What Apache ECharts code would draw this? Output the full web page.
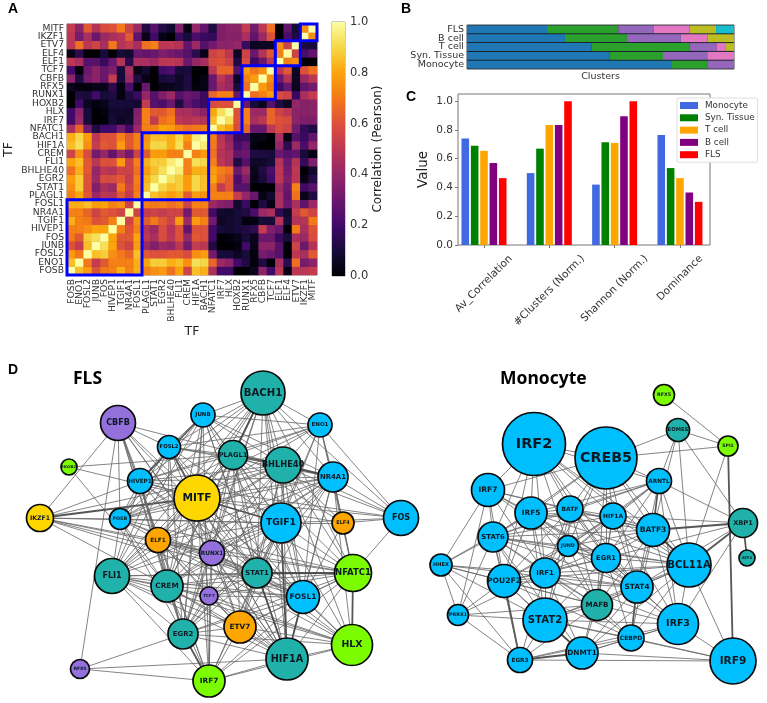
<!DOCTYPE html>
<html><head><meta charset="utf-8">
<style>html,body{margin:0;padding:0;background:#fff}#c{width:767px;height:703px}</style>
<script src="https://cdn.jsdelivr.net/npm/echarts@6/dist/echarts.min.js"></script>
</head><body><div id="c"></div>
<script>
const tfLabels=["FOSB","ENO1","FOSL2","JUNB","FOS","HIVEP1","TGIF1","NR4A1","FOSL1","PLAGL1","STAT1","EGR2","BHLHE40","FLI1","CREM","HIF1A","BACH1","NFATC1","IRF7","HLX","HOXB2","RUNX1","RFX5","CBFB","TCF7","ELF1","ELF4","ETV7","IKZF1","MITF"];
// lower triangle of the symmetric correlation matrix, row i has columns 0..i
const corrRows=[
[1],
[.85,1],
[.78,.7,1],
[.6,.52,.85,1],
[.7,.62,.88,.92,1],
[.72,.72,.75,.8,.8,1],
[.82,.72,.7,.6,.62,.72,1],
[.72,.72,.65,.55,.62,.6,.55,1],
[.82,.82,.85,.78,.8,.72,.75,.55,1],
[.72,.8,.62,.42,.5,.48,.62,.52,.72,1],
[.75,.88,.6,.35,.45,.42,.7,.55,.7,.85,1],
[.78,.88,.6,.42,.58,.58,.62,.52,.72,.82,.9,1],
[.68,.82,.62,.4,.5,.48,.55,.55,.68,.78,.85,.92,1],
[.8,.85,.62,.5,.6,.6,.78,.55,.72,.82,.88,.88,.95,1],
[.55,.75,.58,.32,.4,.28,.42,.32,.55,.62,.78,.78,.72,.72,1],
[.85,.92,.75,.52,.62,.6,.78,.62,.72,.78,.9,.9,.82,.92,.72,1],
[.82,.9,.78,.5,.6,.6,.72,.62,.72,.75,.85,.85,.82,.9,.78,.95,1],
[.45,.65,.32,.12,.2,.2,.32,.2,.42,.72,.72,.8,.78,.72,.68,.7,.72,1],
[.2,.42,.1,0,0,.1,.06,.08,.37,.72,.52,.68,.72,.5,.48,.5,.48,.85,1],
[.2,.38,.1,0,.02,.08,.08,.07,.35,.72,.62,.62,.68,.45,.45,.42,.38,.8,.92,1],
[0,.2,.05,.02,.04,.1,.1,.1,.08,.52,.25,.22,.3,.12,.28,.22,.18,.58,.6,.6,1],
[0,.12,.1,.2,.1,.12,.02,.12,.18,.4,.25,.35,.42,.25,.3,.27,.18,.65,.72,.72,.3,1],
[.05,.02,.02,.04,.04,.15,.02,.22,0,.3,0,.04,.05,.07,.12,.02,.03,.3,.45,.42,.1,.68,1],
[.38,.12,.33,.38,.3,.52,.1,.42,.12,.03,0,.1,.12,.07,.12,0,.03,.3,.5,.42,.05,.72,.78,1],
[.2,0,.3,.38,.3,.35,.1,.45,.03,.08,0,.2,.22,.1,.1,0,0,.5,.65,.65,.25,.78,.7,.75,1],
[.5,.45,.25,.25,.18,.3,.48,.15,.45,.45,.42,.5,.5,.48,.3,.4,.45,.58,.6,.55,.12,.58,.2,.3,.5,1],
[.03,.15,0,0,.1,0,.1,.08,.3,.28,.3,.35,.32,.3,.25,.15,.03,.55,.58,.5,.06,.55,.3,.48,.62,.72,1],
[.5,.68,.5,.55,.45,.7,.48,.52,.45,.68,.72,.5,.5,.48,.28,.42,.25,.32,.38,.38,.4,.18,.05,.06,.06,.75,.55,1],
[.5,.33,.45,.3,.42,.45,.48,.62,.27,.04,.2,.03,0,.17,.1,.22,.18,.17,.35,.37,.37,.45,.28,.42,.6,0,.22,.12,1],
[.52,.38,.62,.48,.58,.6,.7,.55,.42,.12,.25,.13,.08,.35,.03,.4,.28,.12,.35,.38,.38,.52,.32,.5,.68,0,.28,.1,.75,1]
];
const moduleBlocks=[[0,8],[9,16],[17,20],[21,24],[25,27],[28,29]];
const infernoStops=["#000004","#160b39","#420a68","#6a176e","#932667","#bc3754","#dd513a","#f37819","#fca50a","#f6d746","#fcffa4"];

const clusterRows=["Monocyte","Syn. Tissue","T cell","B cell","FLS"];
const cluster1=[.768,.534,.467,.367,.30];
const cluster2=[.132,.20,.367,.232,.267];
const cluster3=[.10,.166,.10,.202,.133];
const cluster4=[0,.10,.033,.099,.133];
const cluster5=[0,0,.033,.10,.10];
const cluster6=[0,0,0,0,.067];
const clusterColors=["#1f77b4","#2ca02c","#9467bd","#e377c2","#bcbd22","#17becf"];

const metricLabels=["Av_Correlation","#Clusters (Norm.)","Shannon (Norm.)","Dominance"];
const metricMonocyte=[.74,.50,.42,.765];
const metricSyn=[.69,.67,.715,.535];
const metricT=[.655,.835,.71,.465];
const metricB=[.57,.835,.895,.365];
const metricFLS=[.465,1,1,.30];

// Network node tables: name, layout x, layout y, node weight, community
const flsNodes=[
["CBFB",118,423,17.5,"p"],["HOXB2",69,467,8,"g"],["JUNB",203,415,12,"b"],["FOSL2",169,447,11.5,"b"],["HIVEP1",140,481,12.5,"b"],
["MITF",197,498,23,"y"],["IKZF1",40,518,13.5,"y"],["FOSB",120,519,10.5,"b"],["ELF1",158,540,12.5,"o"],["RUNX1",212,553,12.5,"p"],
["FLI1",112,576,17.5,"t"],["CREM",167,586,16,"t"],["TCF7",209,596,9,"p"],["EGR2",183,634,15,"t"],["RFX5",80,669,9.5,"p"],
["IRF7",209,681,16,"g"],["BACH1",263,393,22,"t"],["ENO1",320,425,12,"b"],["PLAGL1",233,455,14.5,"t"],["BHLHE40",283,465,18,"t"],
["NR4A1",333,477,15,"b"],["TGIF1",281,523,20,"b"],["ELF4",343,523,11,"o"],["FOS",401,518,17.5,"b"],["STAT1",257,573,15,"t"],
["NFATC1",353,573,18.5,"g"],["FOSL1",303,597,16.5,"b"],["ETV7",240,627,16,"o"],["HLX",352,645,20.5,"g"],["HIF1A",287,659,21,"t"]
];
const flsEdges={
CBFB:"IKZF1 RFX5 FOSL2 HIVEP1 MITF ELF1 STAT1 RUNX1 FOSB HIF1A CREM BHLHE40 EGR2 IRF7",
HOXB2:"PLAGL1 MITF CREM",
IKZF1:"MITF TGIF1 BHLHE40 FOSB HIVEP1 ELF1 RUNX1 CREM STAT1 FOSL1",
RFX5:"EGR2 HIF1A IRF7",
FOSB:"MITF HIVEP1 ELF1 FLI1 TGIF1 BACH1 BHLHE40 PLAGL1 STAT1 CREM FOSL2 JUNB NR4A1 EGR2 NFATC1 FOSL1 ENO1",
HIVEP1:"FOSL2 JUNB MITF PLAGL1 BACH1 BHLHE40 TGIF1 ELF1 FLI1 CREM EGR2 STAT1 FOSL1 HIF1A NR4A1 ENO1 FOS",
FOSL2:"JUNB MITF PLAGL1 BACH1 BHLHE40 TGIF1 NR4A1 ENO1 FLI1 CREM STAT1 FOSL1 EGR2 HIF1A RUNX1",
JUNB:"BACH1 PLAGL1 BHLHE40 MITF TGIF1 ENO1 NR4A1 FLI1 CREM STAT1 EGR2 FOSL1 IRF7 HIF1A",
MITF:"BACH1 PLAGL1 BHLHE40 TGIF1 NR4A1 ENO1 RUNX1 ELF1 FLI1 CREM STAT1 EGR2 FOSL1 NFATC1 ELF4 HLX IRF7 ETV7 HIF1A TCF7 FOS",
ELF1:"RUNX1 FLI1 CREM EGR2 STAT1 TGIF1 NFATC1 HLX HIF1A ETV7 IRF7 TCF7 BHLHE40 PLAGL1 NR4A1 FOSL1 BACH1",
RUNX1:"CREM TCF7 STAT1 TGIF1 ETV7 EGR2 FOSL1 NFATC1 HLX HIF1A IRF7 BHLHE40 PLAGL1 NR4A1 BACH1",
FLI1:"CREM EGR2 IRF7 TCF7 STAT1 TGIF1 PLAGL1 BHLHE40 FOSL1 NFATC1 HIF1A ETV7 NR4A1 BACH1 HLX",
CREM:"EGR2 IRF7 TCF7 STAT1 TGIF1 ETV7 FOSL1 NFATC1 HIF1A HLX BHLHE40 PLAGL1 NR4A1 BACH1",
TCF7:"EGR2 IRF7 STAT1 ETV7 HIF1A FOSL1 NFATC1 TGIF1 HLX",
EGR2:"IRF7 STAT1 ETV7 HIF1A FOSL1 NFATC1 HLX TGIF1 PLAGL1 BHLHE40 BACH1 NR4A1",
IRF7:"ETV7 HIF1A STAT1 HLX NFATC1 FOSL1 TGIF1",
BACH1:"PLAGL1 BHLHE40 ENO1 NR4A1 TGIF1 STAT1 FOS FOSL1 HIF1A NFATC1",
ENO1:"PLAGL1 BHLHE40 NR4A1 TGIF1 STAT1 FOSL1 FOS NFATC1 ELF4",
PLAGL1:"BHLHE40 NR4A1 TGIF1 STAT1 FOSL1 HIF1A ETV7 NFATC1 FOS ELF4",
BHLHE40:"NR4A1 TGIF1 STAT1 FOSL1 HIF1A ETV7 NFATC1 FOS ELF4 HLX",
NR4A1:"TGIF1 ELF4 FOS STAT1 FOSL1 NFATC1 HIF1A HLX ETV7",
TGIF1:"ELF4 FOS STAT1 FOSL1 NFATC1 HIF1A ETV7 HLX",
ELF4:"FOS NFATC1 FOSL1",
FOS:"NFATC1",
STAT1:"NFATC1 FOSL1 ETV7 HIF1A HLX",
NFATC1:"FOSL1 HLX HIF1A ETV7",
FOSL1:"HLX HIF1A ETV7",
ETV7:"HLX HIF1A",
HLX:"HIF1A"
};
const flsHeavy=["MITF-TGIF1","NFATC1-HLX","BHLHE40-NR4A1","STAT1-NFATC1","PLAGL1-BHLHE40","BACH1-PLAGL1","MITF-FOSL2","IKZF1-MITF","FOSL1-HIF1A","TGIF1-HIF1A","STAT1-HIF1A","EGR2-IRF7","HIVEP1-JUNB"];

const monoNodes=[
["RFX5",664,395,10.5,"g"],["EOMES",678,430,11.5,"t"],["SPI1",728,446,10,"g"],["IRF2",534,444,31.5,"b"],["CREB5",606,458,31,"b"],
["ARNTL",659,481,12.5,"b"],["IRF7",488,490,16.5,"b"],["IRF5",531,513,16,"b"],["BATF",570,509,13,"b"],["HIF1A",613,516,13,"b"],
["BATF3",653,530,16.5,"b"],["XBP1",743,523,14.5,"t"],["STAT6",493,537,15,"b"],["JUND",568,546,10.5,"b"],["ATF4",747,558,8,"t"],
["HHEX",441,565,11,"b"],["EGR1",606,558,14.5,"b"],["BCL11A",689,565,22,"b"],["POU2F2",504,581,16.5,"b"],["IRF1",545,573,15,"b"],
["STAT4",637,587,16,"b"],["MAFB",597,605,15.5,"t"],["PRRX1",458,615,10.5,"b"],["STAT2",545,620,22,"b"],["IRF3",678,624,20.5,"b"],
["CEBPD",631,638,13,"b"],["DNMT1",582,653,16,"b"],["EGR3",520,660,12.5,"b"],["IRF9",733,661,23,"b"]
];
const monoEdges={
RFX5:"SPI1",
EOMES:"CREB5 SPI1 ARNTL BATF3 BCL11A XBP1",
SPI1:"CREB5 BCL11A IRF9",
XBP1:"ATF4 BATF3 HIF1A ARNTL BCL11A STAT4 EGR1 IRF3",
IRF9:"BCL11A IRF3 CEBPD DNMT1 EGR3 STAT2",
HHEX:"IRF7 STAT6 IRF5 POU2F2 IRF1 PRRX1 EGR3 STAT4 MAFB STAT2",
PRRX1:"STAT6 IRF7 POU2F2 IRF1 STAT2 EGR3 MAFB",
EGR3:"POU2F2 STAT2 DNMT1 MAFB CEBPD IRF1 STAT6 IRF3",
IRF2:"CREB5 IRF7 STAT6 IRF5 BATF JUND IRF1 HIF1A ARNTL BATF3 EGR1 STAT4 BCL11A POU2F2",
CREB5:"ARNTL IRF7 IRF5 BATF HIF1A BATF3 JUND EGR1 STAT4 BCL11A IRF1 STAT6 MAFB",
ARNTL:"BATF BATF3 HIF1A BCL11A IRF5 STAT6 JUND EGR1 STAT4 IRF1 IRF3",
IRF7:"IRF5 BATF STAT6 JUND POU2F2 IRF1 EGR1 BATF3",
IRF5:"BATF STAT6 HIF1A JUND EGR1 IRF1 POU2F2 BATF3 BCL11A STAT4 MAFB STAT2",
BATF:"HIF1A BATF3 STAT6 JUND EGR1 IRF1 POU2F2 BCL11A STAT4 MAFB STAT2",
HIF1A:"BATF3 STAT6 JUND EGR1 BCL11A STAT4 IRF1 POU2F2 MAFB IRF3",
BATF3:"STAT6 JUND EGR1 BCL11A STAT4 IRF1 MAFB IRF3 CEBPD",
STAT6:"JUND POU2F2 IRF1 EGR1 STAT2 STAT4 MAFB DNMT1 BCL11A",
JUND:"EGR1 IRF1 POU2F2 STAT4 MAFB BCL11A STAT2 IRF3",
EGR1:"BCL11A IRF1 POU2F2 STAT4 MAFB STAT2 IRF3 CEBPD DNMT1",
BCL11A:"STAT4 IRF3 MAFB IRF1 CEBPD STAT2 DNMT1 POU2F2",
POU2F2:"IRF1 STAT2 MAFB STAT4 DNMT1 CEBPD",
IRF1:"STAT2 STAT4 MAFB DNMT1 CEBPD IRF3",
STAT4:"MAFB IRF3 CEBPD STAT2 DNMT1",
MAFB:"STAT2 CEBPD DNMT1 IRF3",
STAT2:"DNMT1 CEBPD IRF3",
IRF3:"CEBPD DNMT1",
CEBPD:"DNMT1"
};
const monoHeavy=["EGR3-POU2F2","EGR3-DNMT1","XBP1-BATF3","XBP1-BCL11A","BATF3-BCL11A","STAT4-CEBPD","STAT2-DNMT1","ARNTL-BATF3","SPI1-IRF9","XBP1-ATF4"];

const communityColors={b:"#00BFFF",t:"#20B2AA",p:"#9370DB",y:"#FFD700",o:"#FFA500",g:"#7CFC00"};
const DJ='"DejaVu Sans"';

function tri(i,j){return i>=j?corrRows[i][j]:corrRows[j][i];}
const heatData=[];
tfLabels.forEach((_,x)=>tfLabels.forEach((_,y)=>heatData.push([x,y,tri(x,y)])));

function graphData(nodes){
  return nodes.map(n=>({name:n[0],value:[n[1],n[2]],symbolSize:n[3]*2,
    itemStyle:{color:communityColors[n[4]],borderColor:"#0a0a0a",borderWidth:1.7},
    label:{show:true,position:"inside",formatter:n[0],fontFamily:DJ,fontWeight:"bold",fontSize:n[3]*.46,color:"#0b1a22"}}));
}
function graphLinks(edges,heavy){
  const out=[];
  for(const s in edges) edges[s].split(" ").forEach(t=>{
    const hv=heavy.includes(s+"-"+t)||heavy.includes(t+"-"+s);
    out.push({source:s,target:t,lineStyle:{width:hv?1.8:1,color:hv?"#444":"#666",opacity:hv?.9:.8}});
  });
  return out;
}
function graphSeries(nodes,edges,heavy,g){
  return {type:"graph",coordinateSystem:"cartesian2d",xAxisIndex:g,yAxisIndex:g,layout:"none",silent:true,
    data:graphData(nodes),links:graphLinks(edges,heavy),z:3,animation:false};
}

const measure=document.createElement("canvas").getContext("2d");
measure.font="10.5px "+DJ;

const chart=echarts.init(document.getElementById("c"),null,{renderer:"canvas"});
const barSeries=[["Monocyte",metricMonocyte,"#4169e1"],["Syn. Tissue",metricSyn,"#008000"],["T cell",metricT,"#ffa500"],["B cell",metricB,"#800080"],["FLS",metricFLS,"#ff0000"]]
 .map(([name,vals,color])=>({name,type:"bar",xAxisIndex:3,yAxisIndex:3,barWidth:7.6,barGap:"23%",
   itemStyle:{color},data:vals.map((v,i)=>[i,v])}));
const stackSeries=[cluster1,cluster2,cluster3,cluster4,cluster5,cluster6].map((vals,i)=>({
  name:"Cluster "+(i+1),type:"bar",stack:"c",xAxisIndex:2,yAxisIndex:2,barCategoryGap:"11%",
  itemStyle:{color:clusterColors[i]},data:vals}));
const tfAxisText={fontFamily:DJ,fontSize:9.2,color:"#333",interval:0};
const letter=(text,left,top)=>({text,left,top,padding:0,textStyle:{fontFamily:'"Liberation Sans"',fontWeight:"bold",fontSize:14,color:"#000"}});

chart.setOption({
  animation:false,
  backgroundColor:"#fff",
  title:[letter("A",8,2),letter("B",401,2),letter("C",406,90),letter("D",8,363),
    {text:"FLS",left:73,top:370,padding:0,textStyle:{fontFamily:'"Noto Sans"',fontWeight:"bold",fontSize:17.5,color:"#000"}},
    {text:"Monocyte",left:500,top:370,padding:0,textStyle:{fontFamily:'"Noto Sans"',fontWeight:"bold",fontSize:17.5,color:"#000"}}],
  grid:[
    {left:67,top:24,width:250,height:251,show:true,borderColor:"#888",borderWidth:1,backgroundColor:"#000"},
    {left:332,top:22,width:13,height:254,show:true,borderColor:"#999",borderWidth:1},
    {left:467,top:25,width:267,height:44,show:true,borderColor:"#444",borderWidth:1,backgroundColor:"#1a2530"},
    {left:458,top:94,width:252,height:151,show:true,borderColor:"#777",borderWidth:1},
    {left:0,top:370,width:425,height:333},
    {left:425,top:370,width:342,height:333}
  ],
  xAxis:[
    {gridIndex:0,type:"category",data:tfLabels,name:"TF",nameLocation:"middle",nameGap:46,
      nameTextStyle:{fontFamily:DJ,fontSize:12.5,color:"#222"},
      axisLabel:Object.assign({rotate:90,margin:4},tfAxisText),axisTick:{length:2,alignWithLabel:true,lineStyle:{color:"#777"}},axisLine:{show:false},splitLine:{show:false},splitArea:{show:false}},
    {gridIndex:1,type:"category",data:[""],show:false},
    {gridIndex:2,type:"value",min:0,max:1,name:"Clusters",nameLocation:"middle",nameGap:3,nameTextStyle:{fontFamily:DJ,fontSize:9.5,color:"#333"},
      axisLabel:{show:false},axisTick:{show:false},axisLine:{show:false},splitLine:{show:false}},
    {gridIndex:3,type:"value",min:-0.398,max:3.46,
      axisLabel:{show:false},axisTick:{show:true,length:3,lineStyle:{color:"#777"},customValues:[0,1,2,3]},axisLine:{show:false,onZero:false},splitLine:{show:false}},
    {gridIndex:4,type:"value",min:0,max:425,show:false},
    {gridIndex:5,type:"value",min:425,max:767,show:false}
  ],
  yAxis:[
    {gridIndex:0,type:"category",data:tfLabels,name:"TF",nameLocation:"middle",nameGap:52,
      nameTextStyle:{fontFamily:DJ,fontSize:12.5,color:"#222"},
      axisLabel:Object.assign({margin:3},tfAxisText),axisTick:{length:2,alignWithLabel:true,lineStyle:{color:"#777"}},axisLine:{show:false},splitLine:{show:false},splitArea:{show:false}},
    {gridIndex:1,type:"value",min:0,max:1,interval:.2,position:"right",name:"Correlation (Pearson)",nameLocation:"middle",nameGap:27,nameRotate:90,
      nameTextStyle:{fontFamily:DJ,fontSize:12,color:"#222"},
      axisLabel:{fontFamily:DJ,fontSize:11.5,color:"#333",margin:5,formatter:v=>v.toFixed(1)},axisTick:{length:3,lineStyle:{color:"#666"}},axisLine:{show:false},splitLine:{show:false}},
    {gridIndex:2,type:"category",data:clusterRows,axisLabel:{fontFamily:DJ,fontSize:9.5,color:"#333",interval:0,margin:3},axisTick:{show:false},axisLine:{show:false,onZero:false}},
    {gridIndex:3,type:"value",min:0,max:1.05,name:"Value",nameLocation:"middle",nameGap:28,nameRotate:90,
      nameTextStyle:{fontFamily:DJ,fontSize:13.5,color:"#222"},
      axisLabel:{fontFamily:DJ,fontSize:10.5,color:"#333",margin:5,customValues:[0,.2,.4,.6,.8,1],formatter:v=>v.toFixed(1)},
      axisTick:{length:3,lineStyle:{color:"#777"},customValues:[0,.2,.4,.6,.8,1]},axisLine:{show:false,onZero:false},splitLine:{show:false}},
    {gridIndex:4,type:"value",min:370,max:703,inverse:true,show:false},
    {gridIndex:5,type:"value",min:370,max:703,inverse:true,show:false}
  ],
  visualMap:{show:false,type:"continuous",min:0,max:1,seriesIndex:0,inRange:{color:infernoStops}},
  legend:{data:["Monocyte","Syn. Tissue","T cell","B cell","FLS"],orient:"vertical",left:677,top:98,itemWidth:18,itemHeight:7,itemGap:3.3,
    icon:"rect",padding:[3,3,3,3],backgroundColor:"#fff",borderColor:"#ddd",borderWidth:1,borderRadius:2,selectedMode:false,z:20,
    textStyle:{fontFamily:DJ,fontSize:8.8,color:"#333",padding:[0,0,0,2]}},
  series:[
    {type:"heatmap",xAxisIndex:0,yAxisIndex:0,data:heatData,silent:true,itemStyle:{borderWidth:0}},
    {type:"custom",xAxisIndex:0,yAxisIndex:0,silent:true,z:5,clip:false,data:moduleBlocks,encode:{x:0,y:0},
      renderItem(params,api){
        const a=api.value(0),b=api.value(1);
        const s=api.size([1,1]);
        const p=api.coord([a,a]),q=api.coord([b,b]);
        return {type:"rect",shape:{x:p[0]-s[0]/2,y:q[1]-s[1]/2,width:q[0]-p[0]+s[0],height:p[1]-q[1]+s[1]},
          style:{fill:null,stroke:"#0000ff",lineWidth:3}};
      }},
    {type:"bar",xAxisIndex:1,yAxisIndex:1,barWidth:"100%",silent:true,data:[1],
      itemStyle:{color:{type:"linear",x:0,y:1,x2:0,y2:0,colorStops:infernoStops.map((c,i)=>({offset:i/10,color:c}))}}},
    ...stackSeries,
    ...barSeries,
    {type:"custom",xAxisIndex:3,yAxisIndex:3,silent:true,clip:false,data:metricLabels.map((_,i)=>[i,0]),encode:{x:0,y:1},
      renderItem(params,api){
        const i=api.value(0);
        const c=api.coord([i,0]);
        const half=measure.measureText(metricLabels[i]).width/2*Math.SQRT1_2;
        return {type:"text",x:c[0],y:c[1]+half+12,rotation:Math.PI/4,
          style:{text:metricLabels[i],align:"center",verticalAlign:"middle",fontFamily:DJ,fontSize:10.5,fill:"#333"}};
      }},
    graphSeries(flsNodes,flsEdges,flsHeavy,4),
    graphSeries(monoNodes,monoEdges,monoHeavy,5)
  ]
});
</script></body></html>
